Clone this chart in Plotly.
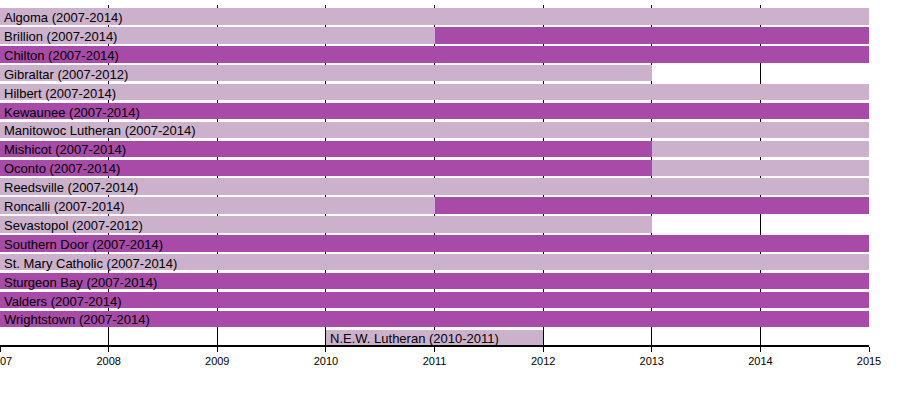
import plotly.graph_objects as go

schools = ["Algoma", "Brillion", "Chilton", "Gibraltar", "Hilbert", "Kewaunee",
           "Manitowoc Lutheran", "Mishicot", "Oconto", "Reedsville", "Roncalli",
           "Sevastopol", "Southern Door", "St. Mary Catholic", "Sturgeon Bay",
           "Valders", "Wrightstown", "N.E.W. Lutheran"]
labels = ["Algoma (2007-2014)", "Brillion (2007-2014)", "Chilton (2007-2014)",
          "Gibraltar (2007-2012)", "Hilbert (2007-2014)", "Kewaunee (2007-2014)",
          "Manitowoc Lutheran (2007-2014)", "Mishicot (2007-2014)", "Oconto (2007-2014)",
          "Reedsville (2007-2014)", "Roncalli (2007-2014)", "Sevastopol (2007-2012)",
          "Southern Door (2007-2014)", "St. Mary Catholic (2007-2014)",
          "Sturgeon Bay (2007-2014)", "Valders (2007-2014)", "Wrightstown (2007-2014)",
          "N.E.W. Lutheran (2010-2011)"]
label_start = [2007] * 17 + [2010]

light_school = ["Algoma", "Brillion", "Gibraltar", "Hilbert", "Manitowoc Lutheran",
                "Mishicot", "Oconto", "Reedsville", "Roncalli", "Sevastopol",
                "St. Mary Catholic", "N.E.W. Lutheran"]
light_start = [2007, 2007, 2007, 2007, 2007, 2013, 2013, 2007, 2007, 2007, 2007, 2010]
light_end = [2015, 2011, 2013, 2015, 2015, 2015, 2015, 2015, 2011, 2013, 2015, 2012]

dark_school = ["Brillion", "Chilton", "Kewaunee", "Mishicot", "Oconto", "Roncalli",
               "Southern Door", "Sturgeon Bay", "Valders", "Wrightstown"]
dark_start = [2011, 2007, 2007, 2007, 2007, 2011, 2007, 2007, 2007, 2007]
dark_end = [2015, 2015, 2015, 2013, 2013, 2015, 2015, 2015, 2015, 2015]

years = list(range(2007, 2016))

LIGHT = "#cbb1cc"
DARK = "#a84aa8"

row = {s: i for i, s in enumerate(schools)}

fig = go.Figure()
fig.add_trace(go.Bar(
    orientation="h",
    y=[row[s] for s in light_school],
    base=light_start,
    x=[e - s for s, e in zip(light_start, light_end)],
    marker=dict(color=LIGHT, line=dict(width=0)),
    width=0.87, hoverinfo="skip", showlegend=False))
fig.add_trace(go.Bar(
    orientation="h",
    y=[row[s] for s in dark_school],
    base=dark_start,
    x=[e - s for s, e in zip(dark_start, dark_end)],
    marker=dict(color=DARK, line=dict(width=0)),
    width=0.87, hoverinfo="skip", showlegend=False))

for i, (lab, st) in enumerate(zip(labels, label_start)):
    fig.add_annotation(x=st, y=i, text=lab, showarrow=False, xanchor="left",
                       yanchor="middle", xshift=2, yshift=-1,
                       font=dict(family="Liberation Sans, Arial", size=13, color="black"))

fig.update_layout(
    width=900, height=395,
    margin=dict(l=0, r=31, t=5, b=50, autoexpand=False),
    plot_bgcolor="white", paper_bgcolor="white",
    barmode="overlay", bargap=0,
    xaxis=dict(range=[2007, 2015], tickvals=years, ticktext=[str(y) for y in years],
               showgrid=True, gridcolor="black", gridwidth=1,
               showline=True, linecolor="black", linewidth=1.5,
               ticks="outside", ticklen=5, tickcolor="black",
               zeroline=False, layer="below traces", automargin=False,
               ticklabeloverflow="allow",
               tickfont=dict(family="Liberation Sans, Arial", size=11, color="black")),
    yaxis=dict(range=[17.38, -0.61], showgrid=False, showticklabels=False,
               zeroline=False, showline=False, ticks="", automargin=False),
)

fig.write_html("out.html", config={"displayModeBar": False},
               post_script="document.body.style.margin='0';document.body.style.overflow='hidden';")
